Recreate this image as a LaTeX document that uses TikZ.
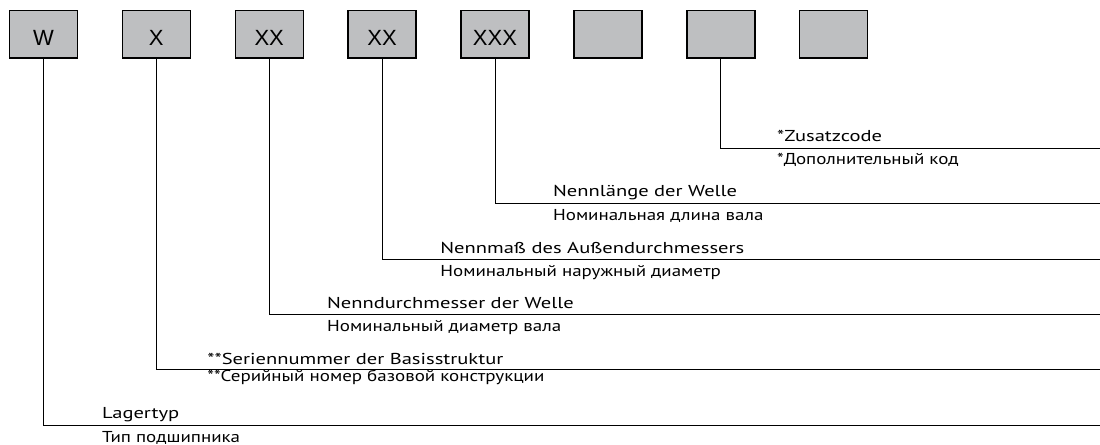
\documentclass[tikz,border=0pt]{standalone}
\usepackage{fontspec}
\setmainfont{PT Sans}[FakeStretch=1.3]
\newfontfamily\rufont{PT Sans}[FakeStretch=1.2]
\newfontfamily\boxfont{Liberation Sans}
\usetikzlibrary{positioning}
\definecolor{codegray}{RGB}{190,191,193}

\begin{document}
\begin{tikzpicture}[x=0.5pt, y=-0.5pt,
    codebox/.style={draw, fill=codegray, line width=0.7pt, minimum width=34pt,
        minimum height=23.7pt, inner sep=0pt, text height=11.4pt, text depth=0pt,
        font=\boxfont\fontsize{11}{13}\selectfont},
    lead/.style={line width=0.5pt},
    de/.style={anchor=base west, inner sep=0pt, font=\fontsize{7.9}{9.5}\selectfont},
    ru/.style={anchor=base west, inner sep=0pt, font=\rufont\fontsize{7.9}{9.5}\selectfont}]
    \useasboundingbox (0,0) rectangle (1100,445);
    % code boxes
    \foreach \n/\x/\t in {type/43.4/W, series/156.3/X, bore/269.2/XX, outer/382.1/XX,
        length/495/XXX, blanka/607.9/{}, extra/720.8/{}, blankb/833.7/{}}
        \node[codebox] (\n) at (\x,34.2) {\t};
    % right ends of the leaders
    \foreach \n/\y in {extra/148.3, length/203.3, outer/259, bore/314.3, series/369.3, type/425}
        \coordinate (\n-end) at (1100,\y);
    \draw[lead] (extra.south) |- (extra-end);
    \draw[lead] (length.south) |- (length-end);
    \draw[lead] (outer.south) |- (outer-end);
    \draw[lead] (bore.south) |- (bore-end);
    \draw[lead] (series.south) |- (series-end);
    \draw[lead] (type.south) |- (type-end);
    % labels
    \node[de] (extrade) at (776.7,141) {*Zusatzcode};
    \node[ru] (extraru) at (776.7,164) {*Дополнительный код};
    \node[de] (lengthde) at (552.7,196) {Nennlänge der Welle};
    \node[ru] (lengthru) at (552.7,220) {Номинальная длина вала};
    \node[de] (outerde) at (440,253.5) {Nennmaß des Außendurchmessers};
    \node[ru] (outerru) at (440,276.7) {Номинальный наружный диаметр};
    \node[de] (borede) at (326.7,308) {Nenndurchmesser der Welle};
    \node[ru] (boreru) at (326.7,331) {Номинальный диаметр вала};
    \node[de] (seriesde) at (207,364.3) {**Seriennummer der Basisstruktur};
    \node[ru] (seriesru) at (207,381) {**Серийный номер базовой конструкции};
    \node[de] (typede) at (101.7,418.3) {Lagertyp};
    \node[ru] (typeru) at (101.7,442.3) {Тип подшипника};
\end{tikzpicture}
\end{document}
